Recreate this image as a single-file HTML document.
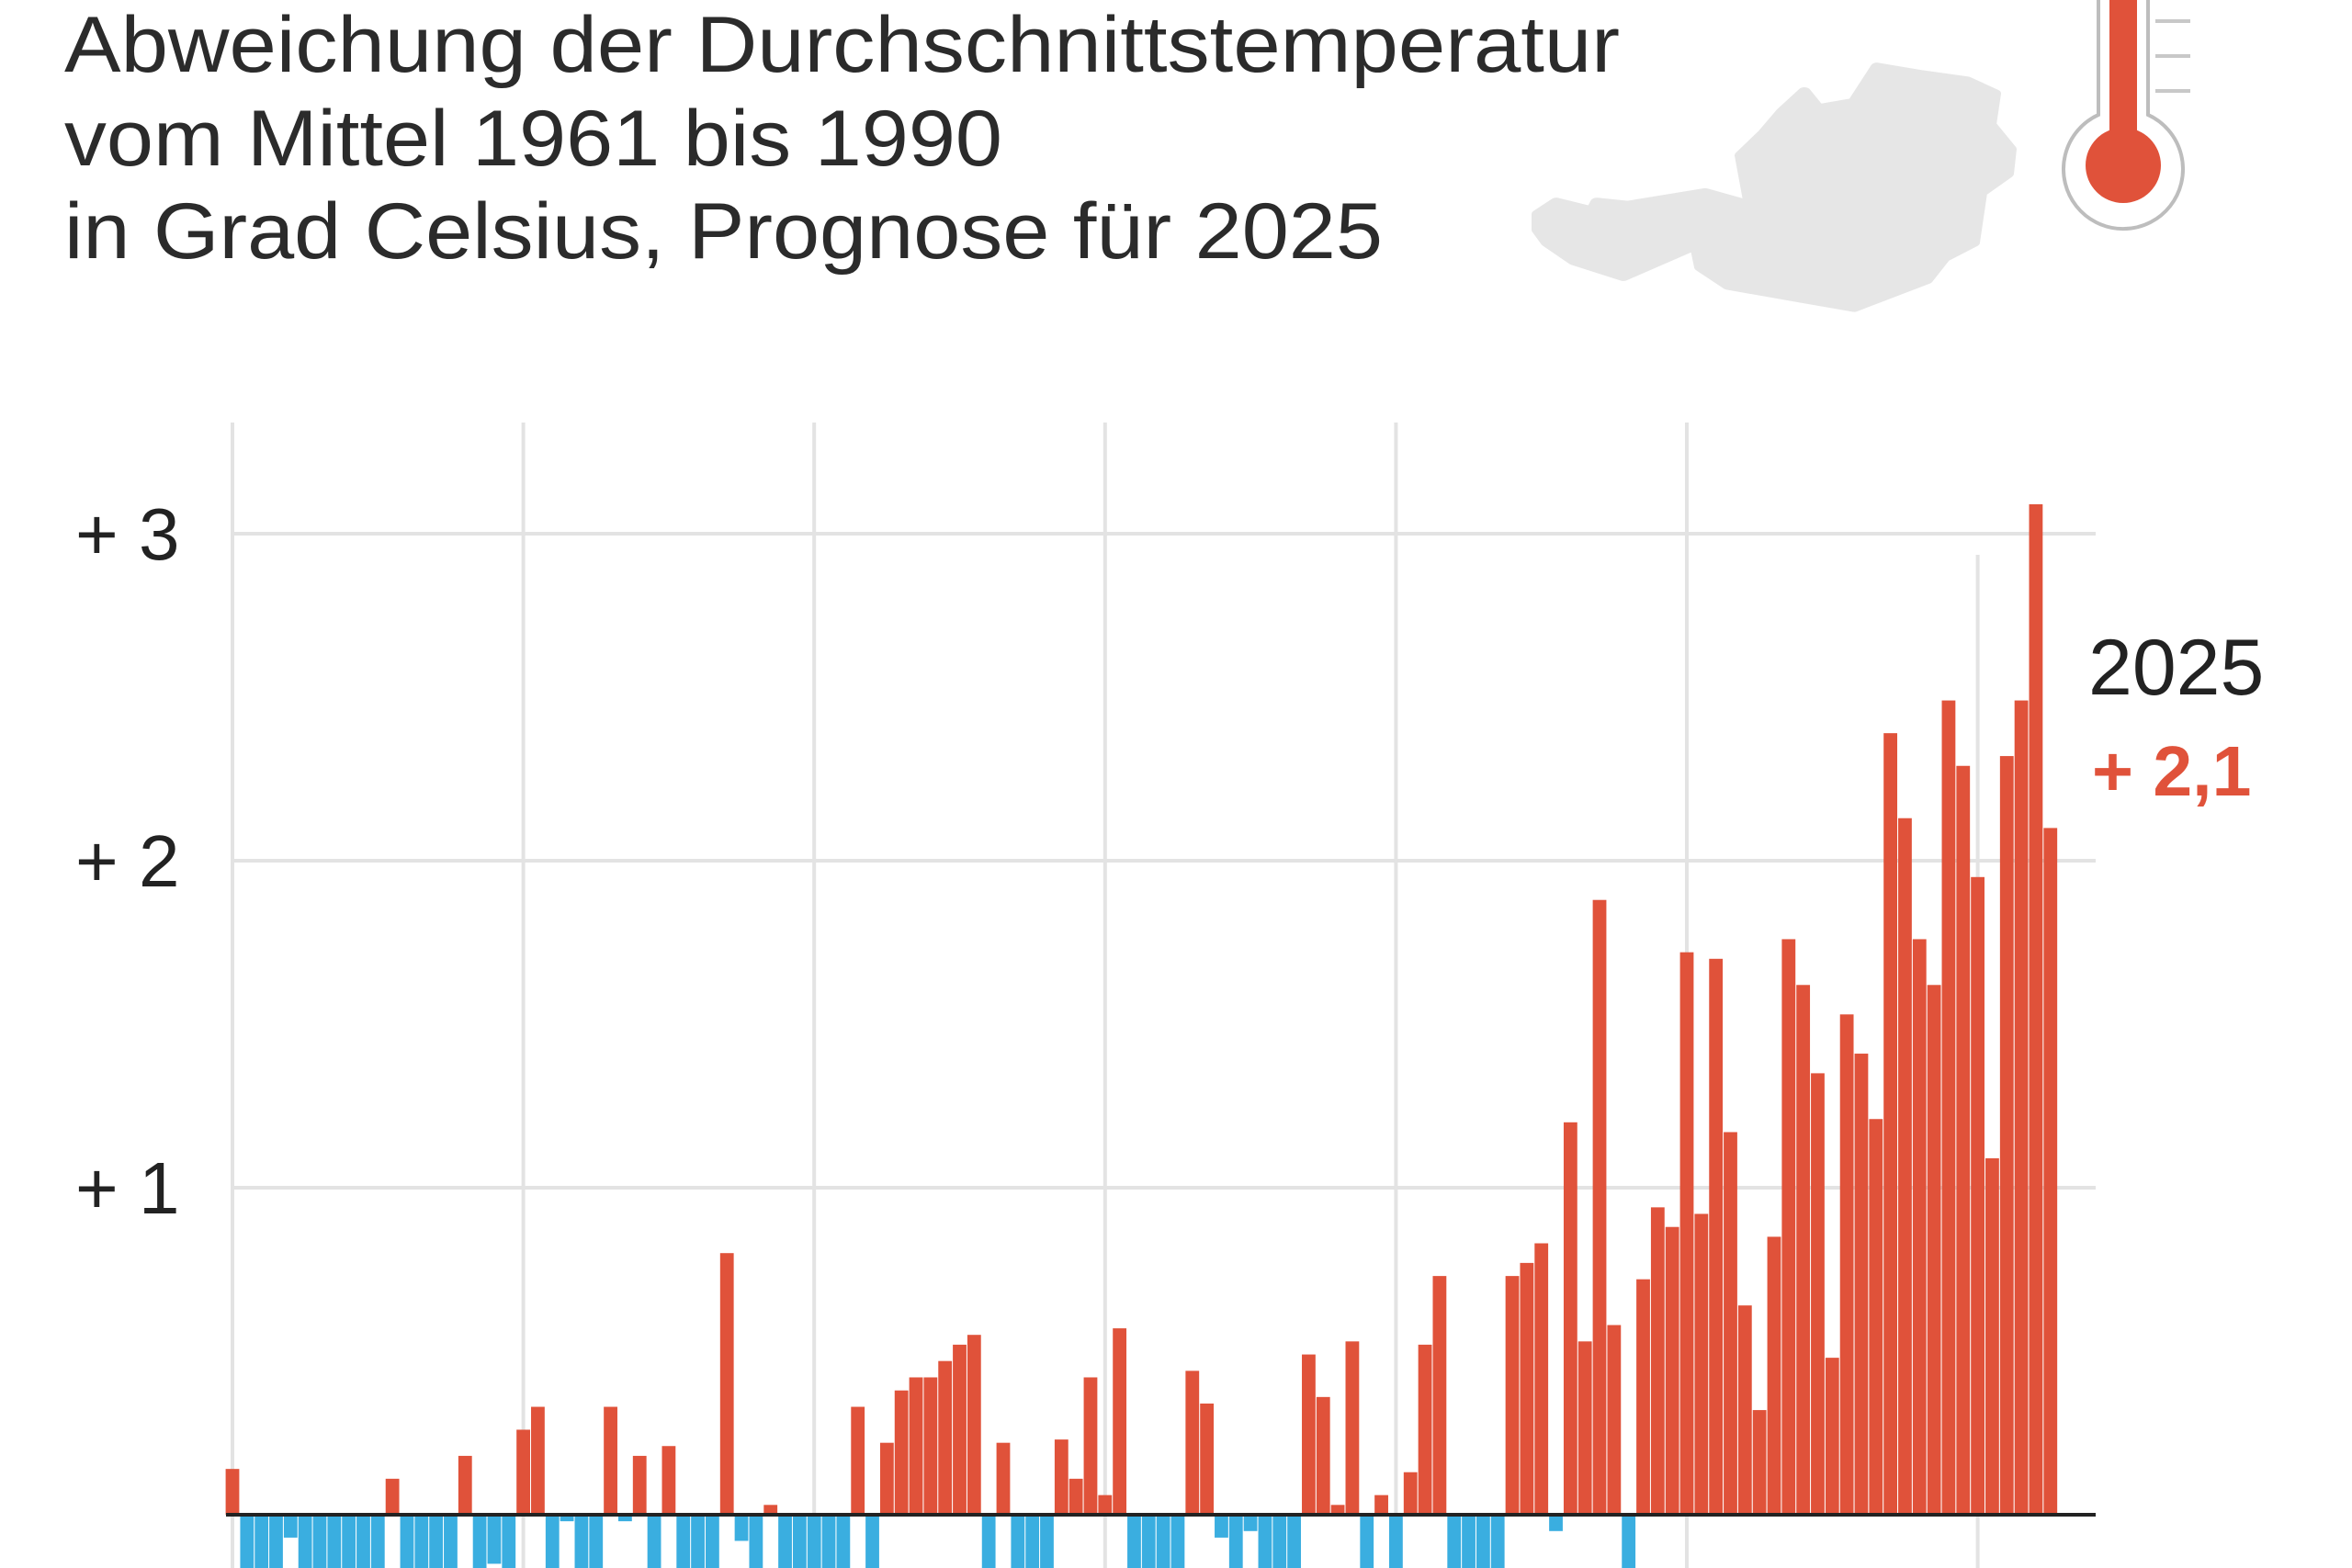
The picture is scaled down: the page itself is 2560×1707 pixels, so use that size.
<!DOCTYPE html>
<html><head><meta charset="utf-8"><style>
html,body{margin:0;padding:0;background:#fff;}
svg{display:block;font-family:"Liberation Sans",Arial,sans-serif;}
</style></head><body>
<svg id="chart" width="2560" height="1707" viewBox="0 0 2560 1707" xmlns="http://www.w3.org/2000/svg">
<g fill="#2b2b2b" font-size="86">
<text x="70" y="78" textLength="1693" lengthAdjust="spacingAndGlyphs">Abweichung der Durchschnittstemperatur</text>
<text x="70" y="180" textLength="1021" lengthAdjust="spacingAndGlyphs">vom Mittel 1961 bis 1990</text>
<text x="70" y="281" textLength="1435" lengthAdjust="spacingAndGlyphs">in Grad Celsius, Prognose für 2025</text>
</g>
<g transform="translate(-6,0) translate(0,73) scale(1,0.687) translate(0,-106)">
<polygon fill="#e6e6e6" stroke="#e6e6e6" stroke-width="14" stroke-linejoin="round" points="1680,339 1700,320 1739,334 1744,320 1778,325 1862,305 1911,325 1901,246 1926,211 1946,177 1970,145 1985,172 2024,162 2049,106 2098,118 2147,128 2177,148 2172,197 2194,236 2191,275 2162,305 2154,384 2122,408 2103,443 2024,487 1965,472 1887,452 1857,423 1852,388 1773,438 1719,413 1690,384 1680,364"/>
</g>
<g>
<path d="M2284,0 V125 A65,65 0 1 0 2338,125 V0" fill="#fff" stroke="#bdbdbd" stroke-width="4"/>
<rect x="2296" y="0" width="30" height="160" fill="#e0523a"/>
<circle cx="2311" cy="180" r="41" fill="#e0523a"/>
<line x1="2346" y1="23" x2="2384" y2="23" stroke="#c8c8c8" stroke-width="4"/>
<line x1="2346" y1="61" x2="2384" y2="61" stroke="#c8c8c8" stroke-width="4"/>
<line x1="2346" y1="99" x2="2384" y2="99" stroke="#c8c8c8" stroke-width="4"/>
</g>
<g id="grid"></g>
<g id="bars"></g>
<g id="axis" font-size="80" fill="#222"></g>
<text x="2273" y="756" font-size="86" fill="#222">2025</text>
<text x="2277" y="866" font-size="77" font-weight="bold" fill="#e0523a">+ 2,1</text>
</svg>
<script>
const startYear = 1900;
const values = [
0.14,-0.3,-0.3,-0.3,-0.07,-0.3,-0.3,-0.3,-0.3,-0.3,
-0.3,0.11,-0.3,-0.3,-0.3,-0.3,0.18,-0.3,-0.15,-0.3,
0.26,0.33,-0.3,-0.02,-0.3,-0.3,0.33,-0.02,0.18,-0.3,
0.21,-0.3,-0.3,-0.3,0.80,-0.08,-0.3,0.03,-0.3,-0.3,
-0.3,-0.3,-0.3,0.33,-0.3,0.22,0.38,0.42,0.42,0.47,
0.52,0.55,-0.3,0.22,-0.3,-0.3,-0.3,0.23,0.11,0.42,
0.06,0.57,-0.3,-0.3,-0.3,-0.3,0.44,0.34,-0.07,-0.3,
-0.05,-0.3,-0.3,-0.3,0.49,0.36,0.03,0.53,-0.3,0.06,
-0.3,0.13,0.52,0.73,-0.3,-0.3,-0.3,-0.3,0.73,0.77,
0.83,-0.05,1.20,0.53,1.88,0.58,-0.3,0.72,0.94,0.88,
1.72,0.92,1.70,1.17,0.64,0.32,0.85,1.76,1.62,1.35,
0.48,1.53,1.41,1.21,2.39,2.13,1.76,1.62,2.49,2.29,
1.95,1.09,2.32,2.49,3.09,2.10];
const yTicks = [1,2,3];
const yTickLabels = ["+ 1","+ 2","+ 3"];
const xGridYears = [1900,1920,1940,1960,1980,2000,2020];

const NS="http://www.w3.org/2000/svg";
const x0=253, yearW=15.83, zeroY=1649, unit=356;
const X = yr => x0 + (yr-startYear)*yearW;
const Y = v => zeroY - v*unit;
function mk(tag, attrs, parent){const e=document.createElementNS(NS,tag);for(const k in attrs)e.setAttribute(k,attrs[k]);parent.appendChild(e);return e;}
const grid=document.getElementById('grid'), bars=document.getElementById('bars'), axis=document.getElementById('axis');
yTicks.forEach((t,i)=>{
  const l=mk('line',{x1:253,x2:2281,y1:Y(t),y2:Y(t),stroke:'#e3e3e3','stroke-width':4},grid);
  
  
  const tx=mk('text',{x:82,y:Y(t)+28},axis);
  tx.textContent=yTickLabels[i];
  
  
});
xGridYears.forEach(yr=>{
  const top = yr===2020 ? 604 : 460;
  const l=mk('line',{x1:X(yr),x2:X(yr),y1:top,y2:1707,stroke:'#e3e3e3','stroke-width':4},grid);
  
  
});
values.forEach((v,i)=>{
  const cx=X(startYear+i);
  const y=v>=0?Y(v):zeroY, h=Math.abs(v)*unit;
  const r=mk('rect',{x:cx-7.4,y:y,width:14.8,height:h,fill:v>=0?'#e0523a':'#3aaee0'},bars);
  
  
});
const base=mk('line',{x1:246,x2:2281,y1:zeroY,y2:zeroY,stroke:'#222','stroke-width':4},bars);


</script>
</body></html>
